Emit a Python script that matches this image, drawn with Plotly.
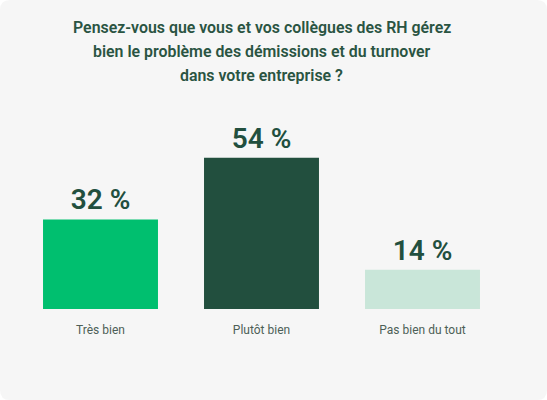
import plotly.graph_objects as go

# data
categories = ["Très bien", "Plutôt bien", "Pas bien du tout"]
values = [32, 54, 14]
bar_colors = ["#00bf6f", "#224f3e", "#c9e6d9"]
title_lines = ["Pensez-vous que vous et vos collègues des RH gérez",
               "bien le problème des démissions et du turnover",
               "dans votre entreprise ?"]

W, H = 547, 400
ml, mr, mt, mb = 20, 44, 141, 91
pw, ph = W - ml - mr, H - mt - mb

fig = go.Figure()
fig.add_trace(go.Bar(x=categories, y=values,
                     marker=dict(color=bar_colors, line=dict(width=0)),
                     width=0.714,
                     text=[f"{v} %" for v in values],
                     textposition="outside",
                     cliponaxis=False,
                     textfont=dict(family="Roboto", size=28, color="#224f3e", weight=600),
                     hoverinfo="skip"))

# rounded grey card behind everything
x0, x1 = -ml / pw, 1 + mr / pw
y0, y1 = -mb / ph, 1 + mt / ph
rx, ry = 10 / pw, 10 / ph
path = (f"M {x0+rx},{y0} L {x1-rx},{y0} Q {x1},{y0} {x1},{y0+ry} "
        f"L {x1},{y1-ry} Q {x1},{y1} {x1-rx},{y1} "
        f"L {x0+rx},{y1} Q {x0},{y1} {x0},{y1-ry} "
        f"L {x0},{y0+ry} Q {x0},{y0} {x0+rx},{y0} Z")
fig.add_shape(type="path", path=path, xref="paper", yref="paper",
              fillcolor="#f6f6f6", line=dict(width=0), layer="below")

# title, one annotation per line to get the looser line spacing
for i, line in enumerate(title_lines):
    fig.add_annotation(text=line, xref="paper", yref="paper",
                       x=0.5, y=1 + (mt - 28 - i * 23.5) / ph,
                       showarrow=False, xanchor="center", yanchor="middle",
                       font=dict(family="Roboto", size=15.9, color="#2a5442", weight=600))

fig.update_layout(
    width=W, height=H,
    margin=dict(l=ml, r=mr, t=mt, b=mb),
    paper_bgcolor="white",
    plot_bgcolor="rgba(0,0,0,0)",
    showlegend=False,
    hovermode=False,
    xaxis=dict(showgrid=False, showline=False, zeroline=False, ticks="",
               tickfont=dict(family="Roboto", size=12, color="#4d5f57"),
               ticklabelstandoff=12),
    yaxis=dict(range=[0, 60], visible=False, showgrid=False, zeroline=False),
)

# drop the page's default body margin so the card sits at the window corner
fig.write_html("out.html", config={"displayModeBar": False},
               post_script="document.body.style.margin='0';")
